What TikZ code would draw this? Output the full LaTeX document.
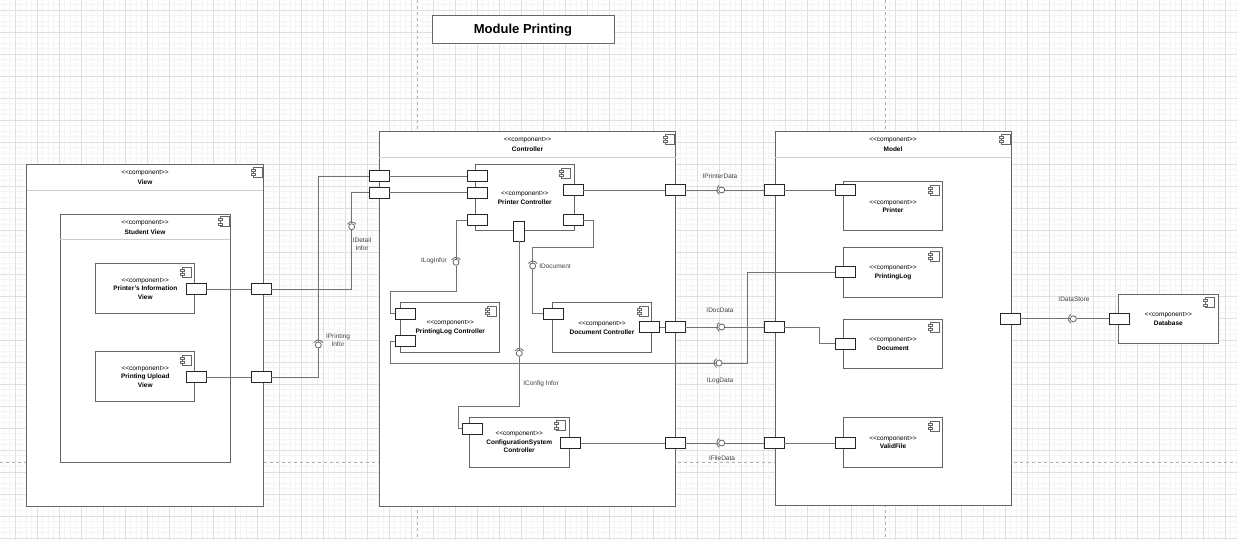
\documentclass[tikz,border=0pt]{standalone}
\usepackage{fontspec}
\setmainfont{Liberation Sans}

\newcommand{\stereo}{<\kern0pt<component>\kern0pt>}
\newcommand{\sockL}[1]{\draw[wire] ([shift={(120:5)}]#1.center) arc[start angle=120, end angle=240, radius=5];}
\newcommand{\sockT}[1]{\draw[wire] ([shift={(210:5)}]#1.center) arc[start angle=210, end angle=330, radius=5];}

\tikzset{
	box/.style={draw=black!60, line width=1pt, fill=white, inner sep=0pt},
	port/.style={draw=black!85, line width=0.8pt, fill=white, minimum width=20pt, minimum height=11pt, inner sep=0pt},
	vport/.style={port, minimum width=11pt, minimum height=20pt},
	wire/.style={draw=black!55, line width=0.9pt},
	ball/.style={circle, draw=black!60, line width=0.8pt, fill=white, minimum size=6pt, inner sep=0pt},
	sep/.style={draw=black!20, line width=1pt},
	txt/.style={font=\fontsize{6.5}{8.5}\selectfont, align=center, inner sep=0pt},
	head/.style={font=\fontsize{6.5}{10}\selectfont, align=center, inner sep=0pt},
	lbl/.style={font=\fontsize{6.5}{8}\selectfont, text=black!75, align=center, inner sep=0pt},
	compicon/.pic={
		\draw[draw=black!60, line width=0.7pt, fill=white] (-3.5,-5) rectangle (5.5,5);
		\draw[draw=black!60, line width=0.7pt, fill=white] (-5.5,-3.2) rectangle (-1.5,-1.2);
		\draw[draw=black!60, line width=0.7pt, fill=white] (-5.5,1.2) rectangle (-1.5,3.2);
	}
}

\begin{document}
\begin{tikzpicture}[x=1pt,y=-1pt]
	\useasboundingbox (0,0) rectangle (1237,540);
	\fill[white] (0,0) rectangle (1237,540);
	\begin{scope}[y=1pt]
		\draw[step=5.5, black!4, line width=0.5pt, shift={(15,-10)}] (-15,-530) grid (1222,10);
		\draw[step=22, black!12, line width=0.8pt, shift={(15,-10)}] (-15,-530) grid (1222,10);
	\end{scope}
	\draw[black!30, dashed] (417,0) -- (417,540);
	\draw[black!30, dashed] (885,0) -- (885,540);
	\draw[black!30, dashed] (0,462) -- (1237,462);

	\node[box, minimum width=182pt, minimum height=28pt, font=\bfseries\fontsize{13}{15}\selectfont] (title) at (523,30) {Module Printing};

	% view side
	\node[box, minimum width=236.6pt, minimum height=341pt] (view) at (145,335.5) {};
	\node[head] (viewHead) at (145,177) {\stereo\\\textbf{View}};
	\node[box, minimum width=170.3pt, minimum height=248pt] (student) at (145.2,338.3) {};
	\node[head] (studentHead) at (145,227) {\stereo\\\textbf{Student View}};
	\node[box, txt, minimum width=99.3pt, minimum height=49.7pt] (infoView) at (145.3,288.8) {\stereo\\\textbf{Printer's Information}\\\textbf{View}};
	\node[box, txt, minimum width=99.3pt, minimum height=50pt] (uploadView) at (145.3,376.7) {\stereo\\\textbf{Printing Upload}\\\textbf{View}};
	\node[port] (infoP) at (196,289) {};
	\node[port] (uploadP) at (196,377) {};
	\node[port] (vP1) at (261,289) {};
	\node[port] (vP2) at (261,377) {};

	% controller
	\node[box, minimum width=296.4pt, minimum height=374.3pt] (ctrl) at (527.5,319) {};
	\node[head] (ctrlHead) at (527.5,144) {\stereo\\\textbf{Controller}};
	\node[box, txt, minimum width=99pt, minimum height=66pt] (printerCtrl) at (524.8,198) {\stereo\\\textbf{Printer Controller}};
	\node[box, txt, minimum width=99.3pt, minimum height=50pt] (logCtrl) at (450.3,327.7) {\stereo\\\textbf{PrintingLog Controller}};
	\node[box, txt, minimum width=99.3pt, minimum height=50pt] (docCtrl) at (602,327.7) {\stereo\\\textbf{Document Controller}};
	\node[box, txt, minimum width=99.7pt, minimum height=50pt] (cfgCtrl) at (519.2,442.3) {\stereo\\\textbf{ConfigurationSystem}\\\textbf{Controller}};
	\node[port] (cL1) at (379,176) {};
	\node[port] (cL2) at (379,192.5) {};
	\node[port] (cR1) at (675,190) {};
	\node[port] (cR2) at (675,327) {};
	\node[port] (cR3) at (675,443) {};
	\node[port] (pcL1) at (477,176) {};
	\node[port] (pcL2) at (477,192.5) {};
	\node[port] (pcL3) at (477,220) {};
	\node[port] (pcR1) at (573,190) {};
	\node[port] (pcR2) at (573,220) {};
	\node[vport] (pcB) at (519.3,231) {};
	\node[port] (plcP1) at (405.3,313.7) {};
	\node[port] (plcP2) at (405.3,341.2) {};
	\node[port] (dcL) at (553.3,313.7) {};
	\node[port] (dcR) at (649.7,327) {};
	\node[port] (cscL) at (472.7,428.8) {};
	\node[port] (cscR) at (570.3,443) {};

	% model
	\node[box, minimum width=236pt, minimum height=374pt] (model) at (893,318.7) {};
	\node[head] (modelHead) at (893,144) {\stereo\\\textbf{Model}};
	\node[box, txt, minimum width=99.4pt, minimum height=49.3pt] (printer) at (893,206.3) {\stereo\\\textbf{Printer}};
	\node[box, txt, minimum width=99.4pt, minimum height=49.6pt] (printLog) at (893,272.5) {\stereo\\\textbf{PrintingLog}};
	\node[box, txt, minimum width=99.4pt, minimum height=49.3pt] (document) at (893,343.7) {\stereo\\\textbf{Document}};
	\node[box, txt, minimum width=99.4pt, minimum height=49.6pt] (validFile) at (893,442.5) {\stereo\\\textbf{ValidFile}};
	\node[port] (mL1) at (774,190) {};
	\node[port] (mL2) at (774,327) {};
	\node[port] (mL3) at (774,443) {};
	\node[port] (mR) at (1010,318.8) {};
	\node[port] (printerP) at (845,190) {};
	\node[port] (logP) at (845,272.2) {};
	\node[port] (docP) at (845,343.8) {};
	\node[port] (fileP) at (845,443) {};

	\node[box, txt, minimum width=100pt, minimum height=49pt] (database) at (1168.3,318.8) {\stereo\\\textbf{Database}};
	\node[port] (dbP) at (1119.2,318.8) {};

	\foreach \n in {view,student,ctrl,model}
		\draw[sep] ([shift={(0.6,26)}]\n.north west) -- ([shift={(-0.6,26)}]\n.north east);
	\foreach \n in {view,student,ctrl,model}
		\pic at ([shift={(-7,8)}]\n.north east) {compicon};
	\foreach \n in {infoView,uploadView,printerCtrl,logCtrl,docCtrl,cfgCtrl,printer,printLog,document,validFile,database}
		\pic at ([shift={(-9.5,9)}]\n.north east) {compicon};

	% interfaces
	\node[ball] (sPrinter) at (721.7,190) {};
	\node[ball] (sDocData) at (721.7,327) {};
	\node[ball] (sLogData) at (719,363) {};
	\node[ball] (sFile) at (721.7,443) {};
	\node[ball] (sStore) at (1073.3,318.8) {};
	\node[ball] (sLogInfor) at (456,262.3) {};
	\node[ball] (sDocument) at (532.7,266) {};
	\node[ball] (sConfig) at (519.3,353.3) {};
	\node[ball] (sDetail) at (351.7,226.7) {};
	\node[ball] (sPrinting) at (318.3,345) {};

	\coordinate (kLog) at (390,291);
	\coordinate (kDoc) at (593.3,247.7);
	\coordinate (kCfg) at (458.3,406.7);
	\coordinate (kLogA) at (390,363);
	\coordinate (kLogB) at (747.3,272.2);
	\coordinate (kDocM) at (819.3,343.8);

	\draw[wire] (infoP) -- (vP1);
	\draw[wire] (uploadP) -- (vP2);
	\draw[wire] (vP1) -| (sDetail);
	\draw[wire] (sDetail) |- (cL2);
	\draw[wire] (vP2) -| (sPrinting);
	\draw[wire] (sPrinting) |- (cL1);
	\draw[wire] (cL1) -- (pcL1);
	\draw[wire] (cL2) -- (pcL2);
	\draw[wire] (pcR1) -- (cR1) -- (sPrinter) -- (mL1) -- (printerP);
	\draw[wire] (pcL3) -| (sLogInfor);
	\draw[wire] (sLogInfor) |- (kLog) |- (plcP1);
	\draw[wire] (pcR2) -| (kDoc) -| (sDocument);
	\draw[wire] (sDocument) |- (dcL);
	\draw[wire] (pcB) -- (sConfig);
	\draw[wire] (sConfig) |- (kCfg) |- (cscL);
	\draw[wire] (plcP2) -| (kLogA) -- (sLogData) -| (kLogB) -- (logP);
	\draw[wire] (dcR) -- (cR2) -- (sDocData) -- (mL2) -| (kDocM) -- (docP);
	\draw[wire] (cscR) -- (cR3) -- (sFile) -- (mL3) -- (fileP);
	\draw[wire] (mR) -- (sStore) -- (dbP);

	\foreach \s in {sPrinter,sDocData,sLogData,sFile,sStore}
		\sockL{\s};
	\foreach \s in {sLogInfor,sDocument,sConfig,sDetail,sPrinting}
		\sockT{\s};

	\node[lbl] (lPrinterData) at (720,175.7) {IPrinterData};
	\node[lbl] (lDocData) at (720,310) {IDocData};
	\node[lbl] (lLogData) at (720,381) {ILogData};
	\node[lbl] (lFileData) at (722,458.3) {IFileData};
	\node[lbl] (lDataStore) at (1074,299.3) {IDataStore};
	\node[lbl] (lLogInfor) at (434,260.7) {ILogInfor};
	\node[lbl] (lDocument) at (555,266) {IDocument};
	\node[lbl] (lConfig) at (541,384.3) {IConfig Infor};
	\node[lbl] (lDetail) at (362,244) {IDetail\\Infor};
	\node[lbl] (lPrinting) at (338,340.5) {IPrinting\\Infor};
\end{tikzpicture}
\end{document}
